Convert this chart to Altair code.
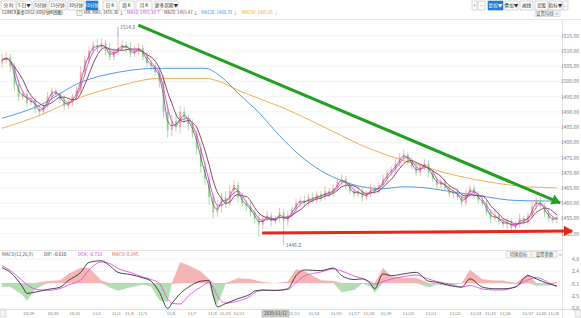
import altair as alt
import pandas as pd

FONT = "Noto Sans CJK SC"

# ---------------- data ----------------
closes = [
    1507, 1508, 1505, 1499, 1495, 1496, 1493, 1494, 1491, 1490,
    1492, 1495, 1497, 1496, 1494, 1492, 1493, 1495, 1497, 1503,
    1507, 1510, 1512, 1511, 1512.5, 1510, 1508, 1510, 1511, 1512,
    1511, 1509, 1510, 1511, 1508, 1506, 1505, 1503, 1500, 1490,
    1484, 1487, 1485, 1490, 1488, 1486, 1483, 1478, 1472, 1468,
    1462, 1457, 1459, 1462, 1460, 1464, 1466, 1462, 1460, 1459,
    1457, 1455, 1453, 1455, 1456, 1454, 1455, 1457, 1454, 1456,
    1458, 1460, 1461, 1460, 1462, 1461, 1463, 1462, 1464, 1463,
    1465, 1467, 1468, 1466, 1464, 1463, 1464, 1462, 1463, 1465,
    1464, 1466, 1468, 1470, 1471, 1473, 1475, 1476, 1474, 1472,
    1470, 1472, 1473, 1470, 1468, 1466, 1467, 1465, 1463, 1464,
    1462, 1460, 1463, 1465, 1463, 1461, 1460, 1457, 1455, 1456,
    1454, 1453, 1454, 1452, 1453, 1455, 1454, 1456, 1459, 1461,
    1459, 1457, 1455, 1454.5, 1455.5,
]
first_open = 1506
wick_up = [
    2.0, 1.5, 1.0, 1.0, 1.5, 1.0, 1.5, 1.0, 1.0, 1.5,
    1.0, 1.5, 1.0, 1.0, 1.0, 1.5, 1.0, 1.0, 1.5, 2.0,
    1.5, 1.5, 1.0, 2.0, 1.5, 1.0, 2.5, 1.0, 3.6, 1.5,
    1.0, 2.0, 1.5, 1.5, 1.0, 1.5, 1.0, 1.0, 1.5, 2.0,
    3.0, 2.0, 2.5, 2.0, 1.5, 1.0, 1.5, 1.0, 2.0, 1.5,
    2.0, 1.0, 2.0, 1.5, 2.0, 2.0, 1.5, 1.0, 1.5, 1.0,
    1.5, 1.0, 2.0, 1.0, 1.5, 1.0, 1.0, 1.5, 1.0, 1.5,
    1.0, 1.5, 1.0, 1.5, 1.0, 1.5, 1.0, 1.0, 1.5, 1.0,
    1.0, 1.5, 1.5, 1.0, 1.0, 1.0, 1.5, 1.0, 1.0, 1.5,
    1.0, 1.0, 1.5, 1.0, 1.0, 1.5, 1.5, 1.5, 1.0, 1.0,
    1.5, 1.0, 1.5, 1.0, 1.0, 1.0, 1.5, 1.0, 1.0, 1.0,
    1.0, 1.0, 1.5, 1.0, 1.0, 1.0, 1.0, 1.0, 1.0, 1.5,
    1.0, 1.0, 1.0, 1.0, 1.0, 1.5, 1.0, 1.0, 1.5, 1.0,
    1.0, 1.0, 1.0, 1.0, 1.0,
]
wick_dn = [
    1.5, 1.0, 2.0, 2.0, 1.5, 1.0, 1.5, 1.0, 1.5, 1.5,
    1.0, 1.0, 1.5, 1.0, 1.0, 1.5, 1.0, 1.0, 1.0, 1.0,
    1.5, 1.0, 1.0, 1.5, 1.0, 1.5, 1.0, 1.0, 1.5, 1.0,
    1.5, 1.0, 1.0, 1.5, 1.0, 1.0, 1.5, 1.0, 2.0, 2.0,
    2.5, 2.0, 1.5, 2.0, 1.5, 2.0, 1.5, 2.0, 2.0, 2.0,
    2.5, 2.0, 1.5, 2.0, 1.5, 1.0, 1.5, 1.5, 1.0, 1.5,
    1.5, 1.5, 4.0, 1.5, 1.0, 1.5, 1.0, 1.0, 7.8, 1.5,
    1.0, 1.0, 1.5, 1.0, 1.0, 1.0, 1.0, 1.5, 1.0, 1.0,
    1.0, 1.0, 1.0, 1.5, 1.0, 1.0, 1.0, 1.5, 1.0, 1.0,
    1.0, 1.0, 1.0, 1.0, 1.0, 1.0, 1.0, 1.0, 1.5, 1.0,
    1.0, 1.0, 1.0, 1.5, 1.0, 1.0, 1.0, 1.0, 1.0, 1.5,
    1.0, 1.0, 1.0, 1.0, 1.5, 1.0, 1.0, 1.0, 1.5, 1.0,
    1.0, 1.0, 1.5, 1.0, 1.0, 1.0, 1.0, 1.0, 1.0, 1.0,
    1.0, 1.5, 1.0, 1.0, 1.0,
]

ma_idx = [0, 9, 19, 28, 38, 49, 53, 57, 62, 67, 72, 77, 82, 87, 92, 97, 102, 107, 112, 117, 122, 127, 134]
ma120 = [1487.9, 1492.1, 1499.7, 1503.0, 1504.3, 1504.3, 1501.4, 1496.1, 1489.8, 1482.2, 1475.6, 1470.7,
         1467.4, 1465.4, 1464.8, 1465.4, 1465.1, 1464.1, 1463.1, 1462.1, 1461.1, 1460.8, 1460.7]
ma250 = [1484.6, 1488.8, 1494.8, 1498.4, 1501.0, 1501.0, 1499.7, 1497.1, 1494.4, 1491.8, 1488.8, 1485.5,
         1482.2, 1478.9, 1476.3, 1474.0, 1472.0, 1470.0, 1468.4, 1467.1, 1466.1, 1465.4, 1465.05]

macd_idx = [0, 2, 5, 6, 8, 11, 14, 16, 19, 21, 24, 26, 28, 31, 34, 36, 38, 40, 41, 43,
            45, 48, 50, 51, 52, 54, 57, 60, 61, 63, 66, 69, 71, 73, 77, 80, 82, 85, 87, 89,
            90, 92, 94, 97, 100, 103, 105, 108, 111, 113, 116, 119, 121, 124, 127, 129, 132, 134]
dif = [3.06, 2.13, -0.83, -2.08, -1.82, -1.28, -0.83, 0.49, 2.13, 4.11,
       4.45, 3.46, 2.13, 1.68, 1.03, 0.36, -1.82, -5.10, -4.11, -2.13,
       -0.83, 0.36, 0.49, -2.47, -4.78, -4.11, -3.12, -2.2, -1.6, -1.4,
       -1.48, -1.15, 1.48, 2.61, 2.47, 3.0, 1.48, 0.69, 0.83, -0.16,
       -1.15, 1.82, 1.48, 1.82, 2.13, 0.36, 0.16, -0.49, -0.83, 0.83,
       -0.83, -1.15, -1.15, -0.83, 1.48, 0.83, -0.16, -0.61]
dea = [3.46, 2.5, 0.4, -0.3, -1.2, -1.48, -1.1, -0.4, 0.6, 2.6,
       4.2, 3.9, 2.9, 2.1, 1.2, 0.7, -0.1, -3.2, -4.0, -4.2,
       -2.6, -0.8, 0.1, -0.9, -2.6, -4.0, -3.6, -2.6, -1.9, -1.5,
       -1.48, -1.3, 0.1, 1.4, 2.2, 2.8, 2.4, 1.4, 0.9, 0.2,
       -0.2, 0.3, 0.8, 1.3, 1.6, 0.8, 0.3, -0.2, -0.8, -0.5,
       -1.2, -1.4, -1.4, -0.7, 0.6, 1.1, 0.1, -0.733]

price_ticks = [1515, 1510, 1505, 1500, 1495, 1490, 1485, 1480, 1475, 1470, 1465, 1460, 1455, 1450]
macd_ticks = [4.8, 2.35, -0.1, -2.55, -5.0]
macd_tick_labels = ["4.8", "2.4", "-0.1", "-2.5", "-5.0"]

day_labels = ["10/29", "10/30", "10/31", "11/1", "11/3", "11/4", "11/5", "11/6", "11/7", "11/8",
              "11/10", "11/11", "11/13", "11/14", "11/15", "11/17", "11/18", "11/19", "11/20",
              "11/21", "11/22", "11/24", "11/25", "11/26", "11/27", "12:00", "11/28"]
day_pos = [6.4, 12.3, 17.6, 22.9, 27.6, 30.8, 33.9, 40.8, 45.9, 50.8, 53.9, 57.2, 70.5, 75.3,
           80.7, 85.0, 88.6, 92.7, 98.1, 103.6, 109.4, 114.4, 117.9, 121.5, 127.0, 130.2, 133.2]

high_idx, high_val = 28, 1514.6
low_idx, low_val = 68, 1446.2

green_idx = [32.9, 134.8]
green_price = [1518.5, 1460.1]
red_idx = [62.8, 137.7]
red_price = [1450.2, 1450.9]

# ---------------- tables ----------------
N = len(closes)
opens = [first_open] + closes[:-1]
rows = []
for i in range(N):
    o, c = opens[i], closes[i]
    top, bot = max(o, c), min(o, c)
    if top - bot < 0.3:
        top += 0.15
        bot -= 0.15
    rows.append(dict(idx=i, open=o, close=c, high=max(o, c) + wick_up[i], low=min(o, c) - wick_dn[i],
                     btop=top, bbot=bot, dir="up" if c >= o else "down"))
df = pd.DataFrame(rows)
df_ma = pd.DataFrame(dict(idx=ma_idx, ma120=ma120, ma250=ma250))
df_macd = pd.DataFrame(dict(idx=macd_idx, dif=dif, dea=dea))

XS = alt.Scale(domain=[-0.5, N - 0.5], range=[0, 559], nice=False, zero=False)
YP = alt.Scale(domain=[1450, 1515], range=[233.7, 35.7], nice=False, zero=False)
YM = alt.Scale(domain=[-5.0, 4.8], range=[308, 259], nice=False, zero=False)

UP, DOWN = "#f08a8a", "#79c279"


def X(f):
    return alt.X(f, scale=XS, axis=None)


def YPc(f):
    return alt.Y(f, scale=YP, axis=None)


def YMc(f):
    return alt.Y(f, scale=YM, axis=None)


def px_text(rows, size=5.0, align="left", weight="normal"):
    d = pd.DataFrame(rows, columns=["t", "x", "y", "c"])
    return alt.Chart(d).mark_text(font=FONT, fontSize=size, align=align, baseline="middle",
                                  fontWeight=weight).encode(
        x=alt.X("x:Q", scale=None), y=alt.Y("y:Q", scale=None), text="t:N",
        color=alt.Color("c:N", scale=None))


def px_rect(rows, sw=0.6):
    d = pd.DataFrame(rows, columns=["x0", "x1", "y0", "y1", "fill", "stroke"])
    return alt.Chart(d).mark_rect(strokeWidth=sw).encode(
        x=alt.X("x0:Q", scale=None), x2="x1:Q", y=alt.Y("y0:Q", scale=None), y2="y1:Q",
        fill=alt.Fill("fill:N", scale=None), stroke=alt.Stroke("stroke:N", scale=None))


def px_rule(rows, sw=0.8):
    d = pd.DataFrame(rows, columns=["x0", "x1", "y0", "y1", "c"])
    return alt.Chart(d).mark_rule(strokeWidth=sw).encode(
        x=alt.X("x0:Q", scale=None), x2="x1:Q", y=alt.Y("y0:Q", scale=None), y2="y1:Q",
        color=alt.Color("c:N", scale=None))


layers = []

# frame lines
layers.append(px_rule([
    (0, 581, 19.5, 19.5, "#e2e2e2"),
    (0, 562, 250.5, 250.5, "#dddddd"),
    (0, 581, 309.5, 309.5, "#d8d8d8"),
    (562.5, 562.5, 19.5, 318, "#dddddd"),
], sw=0.8))

# grid + price tick labels
dpt = pd.DataFrame(dict(p=price_ticks, lab=[f"{v:.2f}" for v in price_ticks]))
layers.append(alt.Chart(dpt).mark_rule(color="#f0f0f0", strokeWidth=0.8).encode(
    x=alt.value(0), x2=alt.value(562), y=YPc("p:Q")))
layers.append(alt.Chart(dpt).mark_text(font=FONT, fontSize=5, align="right", baseline="middle",
                                       color="#777").encode(x=alt.value(579), y=YPc("p:Q"), text="lab:N"))
dmt = pd.DataFrame(dict(v=macd_ticks, lab=macd_tick_labels))
layers.append(alt.Chart(dmt).mark_rule(color="#f0f0f0", strokeWidth=0.8).encode(
    x=alt.value(0), x2=alt.value(562), y=YMc("v:Q")))
layers.append(alt.Chart(dmt).mark_text(font=FONT, fontSize=5, align="right", baseline="middle",
                                       color="#777").encode(x=alt.value(579), y=YMc("v:Q"), text="lab:N"))

# long moving averages
layers.append(alt.Chart(df_ma).mark_line(color="#f0a640", strokeWidth=0.9, interpolate="monotone").encode(
    x=X("idx:Q"), y=YPc("ma250:Q")))
layers.append(alt.Chart(df_ma).mark_line(color="#3d8fe0", strokeWidth=0.9, interpolate="monotone").encode(
    x=X("idx:Q"), y=YPc("ma120:Q")))

# candles
cscale = alt.Scale(domain=["up", "down"], range=[UP, DOWN])
layers.append(alt.Chart(df).mark_rule(strokeWidth=0.8, opacity=0.75).encode(
    x=X("idx:Q"), y=YPc("low:Q"), y2="high:Q", color=alt.Color("dir:N", scale=cscale, legend=None)))
layers.append(alt.Chart(df).mark_rule(strokeWidth=2.0, opacity=0.6).encode(
    x=X("idx:Q"), y=YPc("bbot:Q"), y2="btop:Q", color=alt.Color("dir:N", scale=cscale, legend=None)))

# short moving averages (computed by Vega-Lite window)
for name, frame, col, w in [("ma20", [-4, 0], "#7a3a4a", 0.9), ("ma10", [-2, 0], "#e040e0", 0.9),
                            ("ma5", [-1, 0], "#555555", 0.7)]:
    layers.append(alt.Chart(df).transform_window(
        **{name: "mean(close)"}, frame=frame, sort=[alt.SortField("idx")]
    ).mark_line(color=col, strokeWidth=w, interpolate="monotone").encode(x=X("idx:Q"), y=YPc(f"{name}:Q")))

# trend lines
dg = pd.DataFrame(dict(idx=green_idx, p=green_price))
layers.append(alt.Chart(dg).mark_line(color="#22a022", strokeWidth=3).encode(x=X("idx:Q"), y=YPc("p:Q")))
dr = pd.DataFrame(dict(idx=red_idx, p=red_price))
layers.append(alt.Chart(dr).mark_line(color="#e8261c", strokeWidth=3).encode(x=X("idx:Q"), y=YPc("p:Q")))
ga = pd.DataFrame(dict(idx=[green_idx[1] - 0.9], p=[green_price[1] + 0.9 * 0.573]))
layers.append(alt.Chart(ga).mark_point(shape="triangle-right", filled=True, size=110, angle=23,
                                       color="#22a022", opacity=1).encode(x=X("idx:Q"), y=YPc("p:Q")))
ra = pd.DataFrame(dict(idx=[red_idx[1] - 0.9], p=[red_price[1]]))
layers.append(alt.Chart(ra).mark_point(shape="triangle-right", filled=True, size=110, angle=0,
                                       color="#e8261c", opacity=1).encode(x=X("idx:Q"), y=YPc("p:Q")))

# high / low markers
dh = pd.DataFrame(dict(idx=[high_idx], p=[high_val], p2=[high_val + 3.3], lab=[f"{high_val}"]))
layers.append(alt.Chart(dh).mark_rule(color="#6a8cb0", strokeWidth=0.7).encode(
    x=X("idx:Q"), y=YPc("p:Q"), y2="p2:Q"))
layers.append(alt.Chart(dh).mark_text(font=FONT, fontSize=5, align="left", baseline="middle", dx=2,
                                      color="#4a6f9a").encode(x=X("idx:Q"), y=YPc("p2:Q"), text="lab:N"))
dl = pd.DataFrame(dict(idx=[low_idx], p=[low_val], lab=[f"{low_val}"]))
layers.append(alt.Chart(dl).mark_text(font=FONT, fontSize=5, align="left", baseline="middle", dx=2,
                                      color="#4a6f9a").encode(x=X("idx:Q"), y=YPc("p:Q"), text="lab:N"))

# MACD
base_m = alt.Chart(df_macd).transform_calculate(
    hist="2*(datum.dif-datum.dea)", zero="0"
).transform_calculate(pos="max(datum.hist,0)", neg="min(datum.hist,0)")
layers.append(base_m.mark_area(color="#f4a3a3", opacity=0.8).encode(
    x=X("idx:Q"), y=YMc("pos:Q"), y2="zero:Q"))
layers.append(base_m.mark_area(color="#9fd69f", opacity=0.8).encode(
    x=X("idx:Q"), y=YMc("neg:Q"), y2="zero:Q"))
layers.append(alt.Chart(df_macd).mark_line(color="#e050e0", strokeWidth=0.9, interpolate="monotone").encode(
    x=X("idx:Q"), y=YMc("dea:Q")))
layers.append(alt.Chart(df_macd).mark_line(color="#333333", strokeWidth=0.9, interpolate="monotone").encode(
    x=X("idx:Q"), y=YMc("dif:Q")))

# date labels
dd = pd.DataFrame(dict(pos=day_pos, lab=day_labels))
layers.append(alt.Chart(dd).mark_text(font=FONT, fontSize=4.2, align="center", baseline="middle",
                                      color="#777").encode(x=X("pos:Q"), y=alt.value(313.5), text="lab:N"))
layers.append(px_rect([(262, 289, 310, 317, "#c9c9c9", "#b5b5b5"),
                       (0, 6, 310, 317, "#f4f4f4", "#cccccc"),
                       (575, 581, 310, 317, "#f4f4f4", "#cccccc")]))
layers.append(px_text([("2019/11/12", 275.5, 313.5, "#444")], size=4.4, align="center"))

# top toolbar
left_btns = [("分 时", 1, 16), ("5 日▼", 17, 32), ("5分钟", 34, 47), ("15分钟", 49, 66), ("30分钟", 68, 84),
             ("60分钟", 86, 98), ("日 K", 103, 117), ("周 K", 119, 134), ("月 K", 136, 152), ("更多周期▼", 155, 178)]
right_btns = [("+", 472, 477), ("−", 478, 485), ("复权▼", 488, 503), ("叠加▼", 505, 518), ("画线", 520, 533),
              ("论股", 535, 548), ("指标▼", 549, 562), ("⛶", 563, 568)]
sel = {"60分钟", "复权▼"}
rects, texts_dark, texts_white = [], [], []
for lab, a, b in left_btns + right_btns:
    if lab in sel:
        rects.append((a, b, 1, 10, "#1e7bd6", "#1e7bd6"))
        texts_white.append((lab, (a + b) / 2, 5.5, "#ffffff"))
    else:
        rects.append((a, b, 1, 10, "#ffffff", "#bdbdbd"))
        texts_dark.append((lab, (a + b) / 2, 5.5, "#333333"))
rects.append((535, 560, 10.5, 16.5, "#f7f7f7", "#cccccc"))
rects.append((77, 82, 10.5, 15.5, "#ffffff", "#999999"))
rects.append((506, 531, 251.5, 257.5, "#f7f7f7", "#cccccc"))
rects.append((532, 557, 251.5, 257.5, "#f7f7f7", "#cccccc"))
layers.append(px_rect(rects))
layers.append(px_text(texts_dark, size=4.6, align="center"))
layers.append(px_text(texts_white, size=4.6, align="center"))
layers.append(px_text([("设置均线 ×", 547.5, 13.5, "#555"), ("?", 79.5, 13, "#777"),
                       ("切换指标", 518.5, 254.5, "#555"), ("设置参数", 544.5, 254.5, "#555"),
                       ("×", 560, 254.5, "#777")], size=4.4, align="center"))

# legend line
layers.append(px_text([
    ("COMEX黄金1912 (60分钟K线图)", 2, 13, "#333333"),
    ("MA: MA5: 1455.30 ↓", 84, 13, "#444444"),
    ("MA10: 1455.30 ↑", 127, 13, "#d63cd6"),
    ("MA20: 1455.47 ↓", 164, 13, "#7a3a4a"),
    ("MA120: 1460.70 ↓", 201, 13, "#3d8fe0"),
    ("MA250: 1465.05 ↓", 242, 13, "#f0a640"),
], size=4.3, align="left"))
layers.append(px_text([
    ("MACD(12,26,9)", 2, 255, "#555555"),
    ("DIF: -0.610", 44, 255, "#333333"),
    ("DEA: -0.733", 78, 255, "#d63cd6"),
    ("MACD: 0.245", 112, 255, "#e06060"),
], size=4.6, align="left"))

chart = alt.layer(*layers).resolve_scale(
    x="independent", y="independent", color="independent", fill="independent", stroke="independent"
).properties(width=581, height=318, padding=0, autosize="none", background="white").configure_view(stroke=None)

chart.save("out.html", embed_options={"renderer": "svg", "actions": False})
